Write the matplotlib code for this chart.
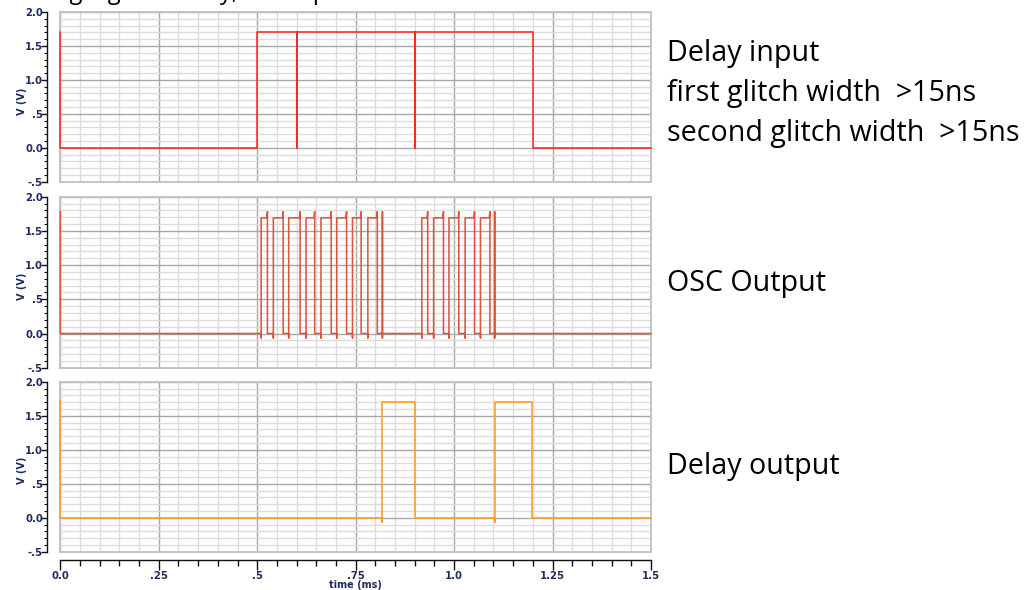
import matplotlib
matplotlib.use('Agg')
import matplotlib.pyplot as plt
from matplotlib.ticker import MultipleLocator, FixedLocator, FixedFormatter
from matplotlib.patches import Rectangle

W, H = 1028, 590

# ---------------- data ----------------
x_ticks = [0.0, 0.25, 0.5, 0.75, 1.0, 1.25, 1.5]
x_tick_labels = ["0.0", ".25", ".5", ".75", "1.0", "1.25", "1.5"]
y_ticks = [-0.5, 0.0, 0.5, 1.0, 1.5, 2.0]
y_tick_labels = ["-.5", "0.0", ".5", "1.0", "1.5", "2.0"]

# Delay input waveform (time in ms, voltage in V)
input_t = [0.0, 0.0, 0.5, 0.5, 0.6, 0.6, 0.6, 0.9, 0.9, 0.9, 1.2, 1.2, 1.5]
input_v = [1.7, 0.0, 0.0, 1.7, 1.7, 0.0, 1.7, 1.7, 0.0, 1.7, 1.7, 0.0, 0.0]

# OSC output: edge times (ms) and levels (V)
osc_rise = [0.510, 0.541, 0.580, 0.624, 0.662, 0.702, 0.742, 0.781,
            0.918, 0.948, 0.987, 1.028, 1.067]
osc_fall = [0.524, 0.564, 0.607, 0.644, 0.686, 0.725, 0.762, 0.803,
            0.931, 0.971, 1.010, 1.050, 1.089]
osc_spikes = [0.818, 1.103]
osc_start = 1.78
osc_high = 1.69
osc_overshoot = 1.78
osc_undershoot = -0.065
osc_lag = 0.002

# Delay output waveform
out_t = [0.0, 0.0, 0.818, 0.818, 0.818, 0.901, 0.901, 1.103, 1.103, 1.103, 1.199, 1.199, 1.5]
out_v = [1.72, 0.0, 0.0, -0.06, 1.7, 1.7, 0.0, 0.0, -0.06, 1.7, 1.7, 0.0, 0.0]

side_texts = [("Delay input", 60.5), ("first glitch width  >15ns", 100.5),
              ("second glitch width  >15ns", 140.5), ("OSC Output", 291),
              ("Delay output", 474)]
top_text = "Testing a glitch delay, its output"

# ---------------- build OSC polyline ----------------
events = [(t, 'r') for t in osc_rise] + [(t, 'f') for t in osc_fall] + [(t, 's') for t in osc_spikes]
events.sort()
osc_t = [0.0, 0.0]
osc_v = [osc_start, 0.0]
for t, kind in events:
    if kind == 'r':
        osc_t += [t, t, t]
        osc_v += [0.0, osc_undershoot, osc_high]
    elif kind == 'f':
        osc_t += [t, t + osc_lag, t + osc_lag]
        osc_v += [osc_high, osc_overshoot, 0.0]
    else:
        osc_t += [t, t, t, t]
        osc_v += [0.0, osc_undershoot, osc_overshoot, 0.0]
osc_t.append(1.5)
osc_v.append(0.0)

# ---------------- figure ----------------
fig = plt.figure(figsize=(W / 100, H / 100), dpi=100)
fig.patch.set_facecolor('white')

navy = '#1e2c5e'
left_px, right_px = 60.3, 651.0
panels = [(12.0, 181.7), (196.7, 367.7), (381.7, 551.7)]
series = [(input_t, input_v, '#ff2626'),
          (osc_t, osc_v, '#d9573d'),
          (out_t, out_v, '#ff9b21')]

axes = []
for i, ((top, bot), (ts, vs, col)) in enumerate(zip(panels, series)):
    ax = fig.add_axes([left_px / W, 1 - bot / H, (right_px - left_px) / W, (bot - top) / H])
    axes.append(ax)
    ax.set_xlim(0, 1.5)
    ax.set_ylim(-0.5, 2.0)
    ax.xaxis.set_major_locator(FixedLocator(x_ticks))
    ax.xaxis.set_minor_locator(MultipleLocator(0.05))
    ax.yaxis.set_major_locator(FixedLocator(y_ticks))
    ax.yaxis.set_major_formatter(FixedFormatter(y_tick_labels))
    ax.yaxis.set_minor_locator(MultipleLocator(0.1))
    ax.grid(which='minor', color='#dcdcdc', lw=1.0)
    ax.grid(which='major', color='#a8a8a8', lw=1.0)
    ax.set_axisbelow(True)
    for s in ['top', 'right', 'bottom']:
        ax.spines[s].set_visible(False)
    ax.spines['left'].set_position(('outward', 9.5))
    ax.spines['left'].set_color('#111111')
    ax.spines['left'].set_linewidth(1.0)
    ax.tick_params(axis='y', which='major', direction='out', length=4, width=1,
                   pad=-1, labelsize=7.3, labelcolor=navy, color='#111111')
    ax.tick_params(axis='y', which='minor', direction='out', length=2.3, width=0.8,
                   color='#111111')
    for lab in ax.get_yticklabels():
        lab.set_fontweight('bold')
    ax.add_patch(Rectangle((0, 0), 1, 1, transform=ax.transAxes, fill=False,
                           edgecolor='#c4c4c4', lw=1.4, clip_on=False, zorder=5))
    ax.plot(ts, vs, color=col, lw=1.15, zorder=6, clip_on=False)
    if i < 2:
        ax.tick_params(axis='x', which='both', bottom=False, labelbottom=False)
    else:
        ax.spines['bottom'].set_visible(True)
        ax.spines['bottom'].set_position(('outward', 6))
        ax.spines['bottom'].set_color('#111111')
        ax.spines['bottom'].set_linewidth(1.0)
        ax.xaxis.set_major_formatter(FixedFormatter(x_tick_labels))
        ax.tick_params(axis='x', which='major', direction='out', length=7, width=1,
                       pad=1, labelsize=7.3, labelcolor=navy, color='#111111')
        ax.tick_params(axis='x', which='minor', direction='out', length=4, width=1,
                       color='#111111')
        for lab in ax.get_xticklabels():
            lab.set_fontweight('bold')
    cy = (top + bot) / 2 + 4
    fig.text(22 / W, 1 - cy / H, 'V (V)', rotation=90, ha='center', va='center',
             fontsize=7, color=navy, fontweight='bold')

fig.text(355 / W, 1 - 585 / H, 'time (ms)', ha='center', va='center',
         fontsize=7, color=navy, fontweight='bold')

for txt, base in side_texts:
    fig.text(666.7 / W, 1 - base / H, txt, ha='left', va='baseline',
             fontsize=20.6, family='Open Sans', color='black')

# title line of the source, clipped by the top edge (only descenders visible)
fig.text(3 / W, 1 + 1 / H, top_text, ha='left', va='baseline',
         fontsize=17, family='Open Sans', color='black')

fig.savefig('out.png', dpi=100)
